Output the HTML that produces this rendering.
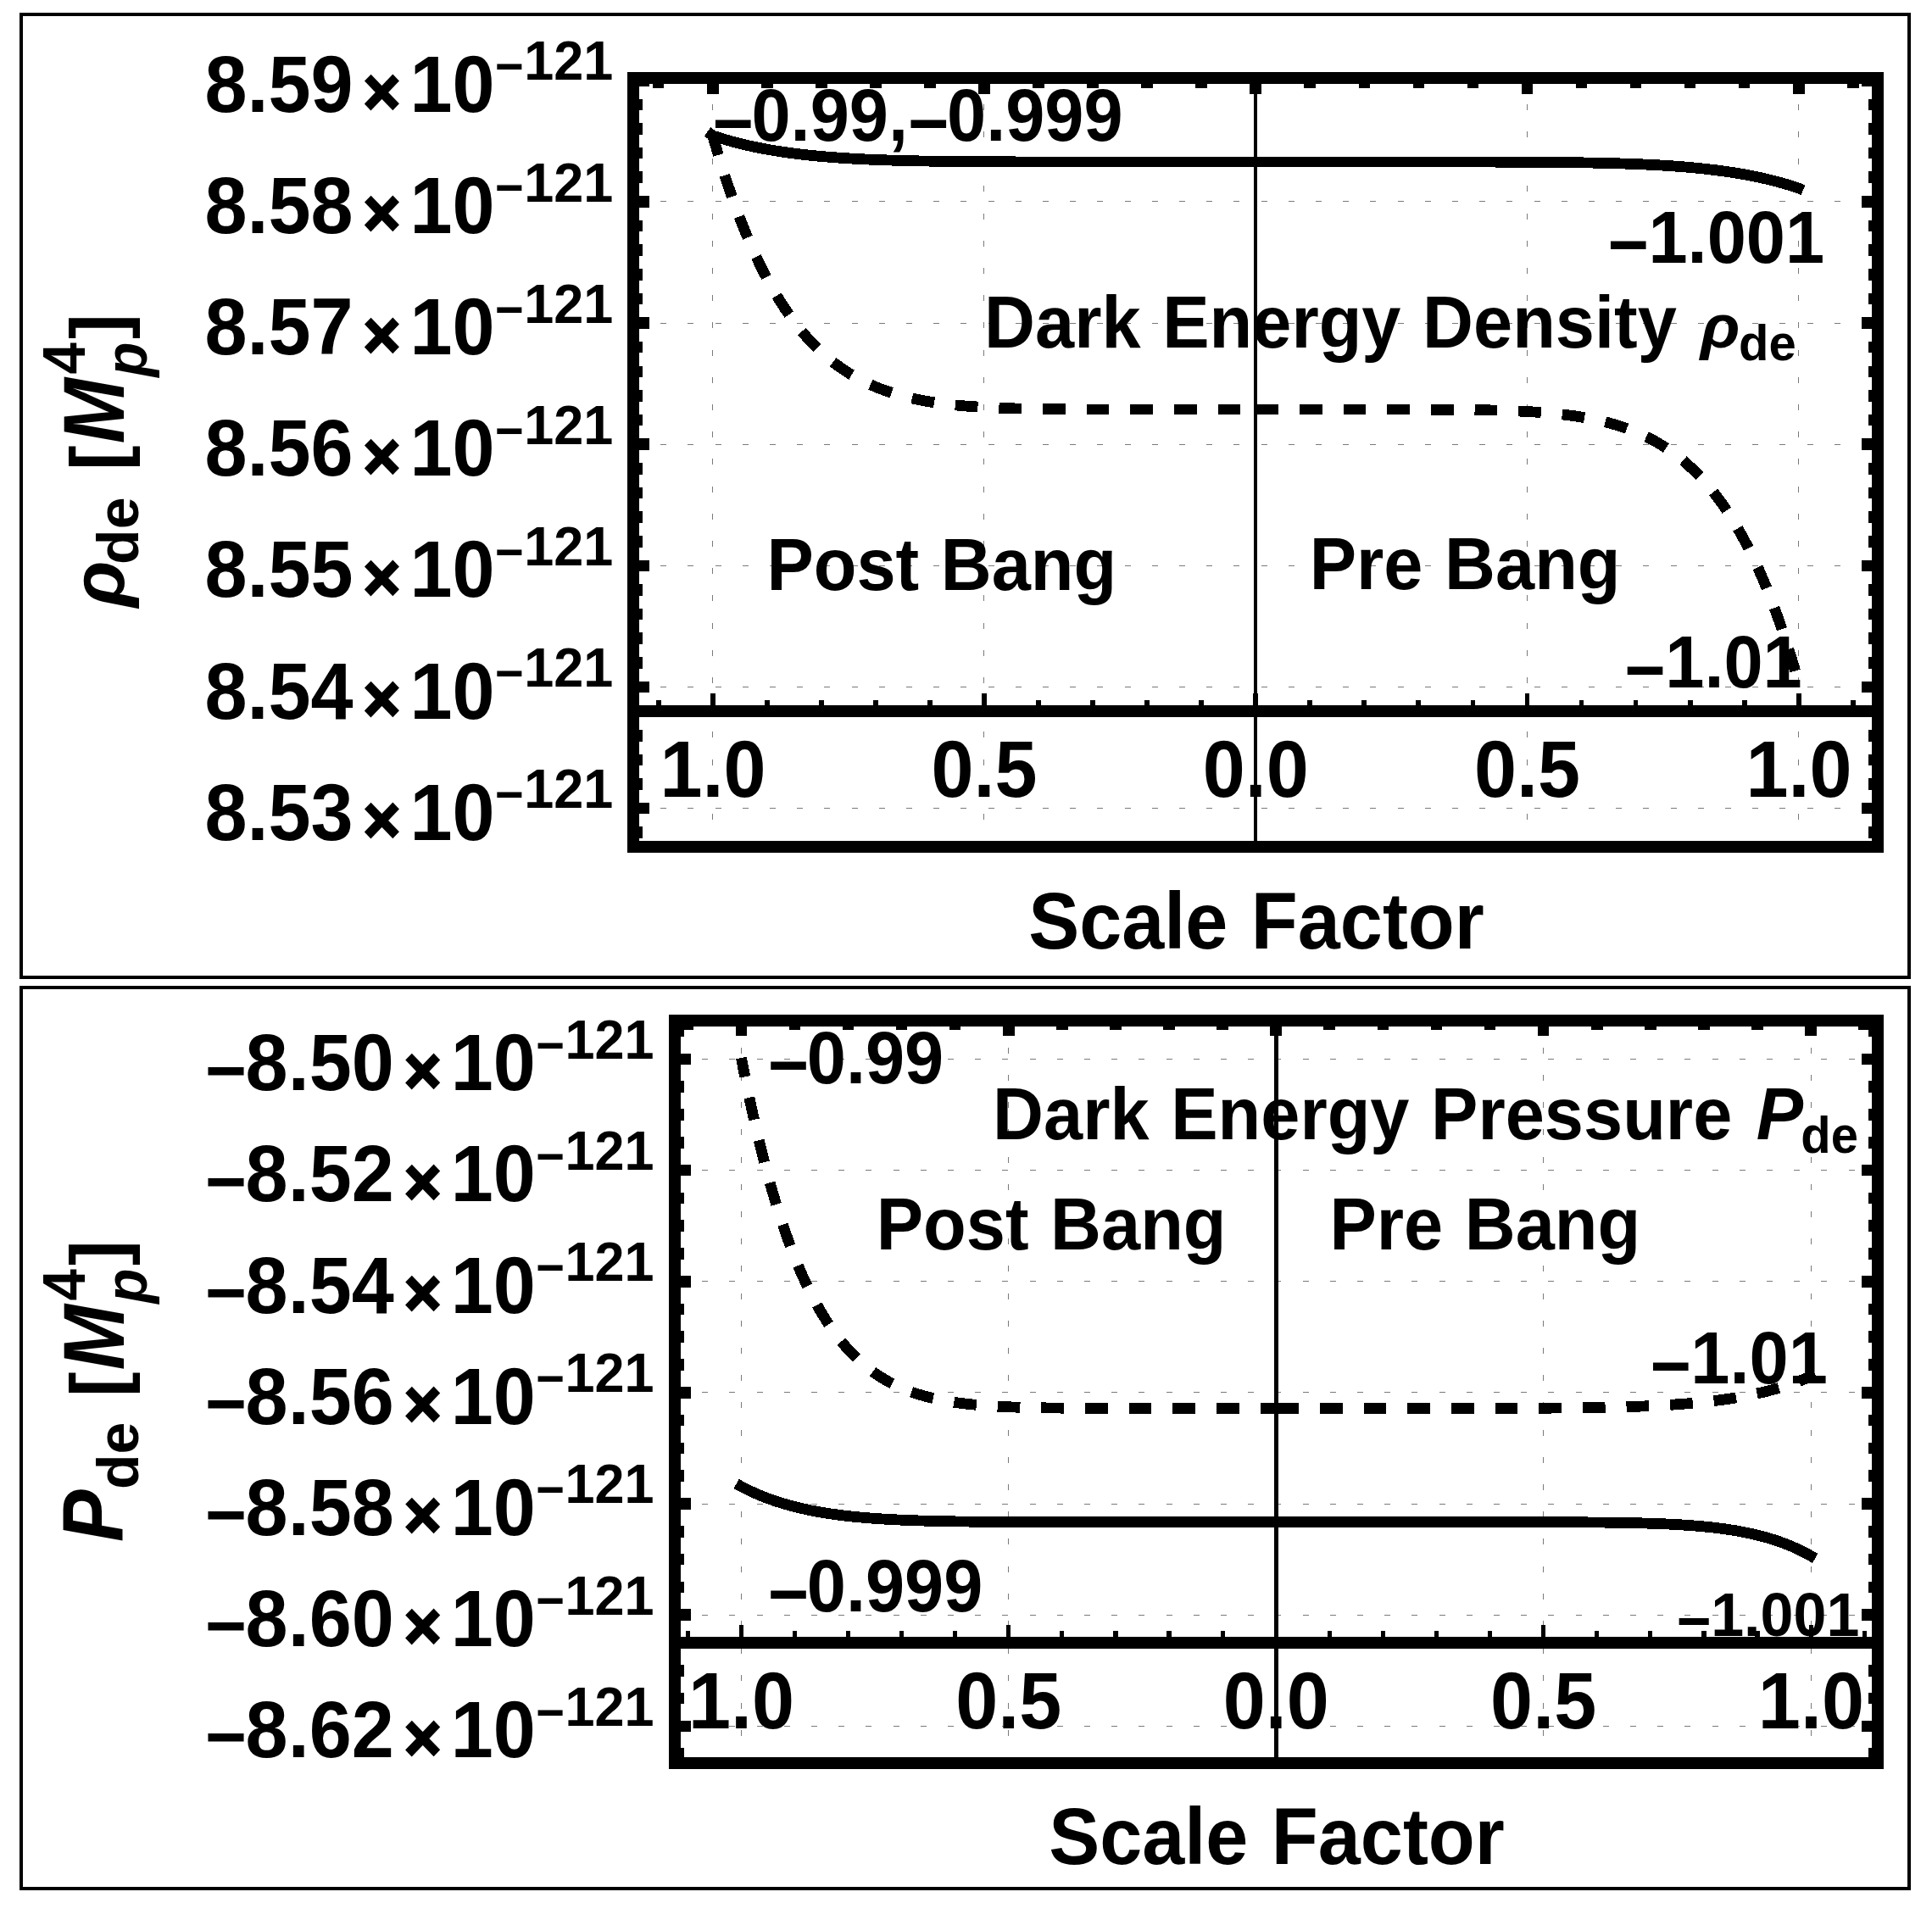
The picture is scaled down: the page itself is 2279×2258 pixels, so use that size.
<!DOCTYPE html>
<html lang="en"><head><meta charset="utf-8"><title>Dark energy density and pressure</title>
<style>html,body{margin:0;padding:0;background:#fff}svg{display:block}text{word-spacing:2.5px;font-family:"Liberation Sans",sans-serif;font-weight:bold;fill:#000}.i{font-style:italic}</style>
</head><body>
<svg width="2279" height="2258" viewBox="0 0 2279 2258" shape-rendering="crispEdges">
<rect width="2279" height="2258" fill="#fff"/>
<rect x="25" y="17" width="2227.2" height="1136" fill="none" stroke="#000" stroke-width="4"/>
<rect x="25" y="1165" width="2227.2" height="1063.3" fill="none" stroke="#000" stroke-width="4"/>
<path d="M840.5 999.2 V92 M1160.5 999.2 V92 M1801.5 999.2 V92 M2121.5 999.2 V92 M747 953.5 H2215 M747 810.5 H2215 M747 667.5 H2215 M747 524.5 H2215 M747 381.5 H2215 M747 237.5 H2215 M747 94.5 H2215" fill="none" stroke="#7a7a7a" stroke-width="1" stroke-dasharray="7 25.2"/>
<path d="M1481 92 V999.2" stroke="#000" stroke-width="4" fill="none"/>
<path d="M776.65 839 V826.2 M840.7 839 V818.3 M904.75 839 V826.2 M968.8 839 V826.2 M1032.85 839 V826.2 M1096.9 839 V826.2 M1160.95 839 V818.3 M1225 839 V826.2 M1289.05 839 V826.2 M1353.1 839 V826.2 M1417.15 839 V826.2 M1481.2 839 V818.3 M1545.25 839 V826.2 M1609.3 839 V826.2 M1673.35 839 V826.2 M1737.4 839 V826.2 M1801.45 839 V818.3 M1865.5 839 V826.2 M1929.55 839 V826.2 M1993.6 839 V826.2 M2057.65 839 V826.2 M2121.7 839 V818.3 M2185.75 839 V826.2" stroke="#000" stroke-width="5.8" fill="none"/>
<path d="M747 839 H2215" stroke="#000" stroke-width="14" fill="none"/>
<path d="M776.65 92 v12 M840.7 92 v19 M904.75 92 v12 M968.8 92 v12 M1032.85 92 v12 M1096.9 92 v12 M1160.95 92 v19 M1225 92 v12 M1289.05 92 v12 M1353.1 92 v12 M1417.15 92 v12 M1481.2 92 v19 M1545.25 92 v12 M1609.3 92 v12 M1673.35 92 v12 M1737.4 92 v12 M1801.45 92 v19 M1865.5 92 v12 M1929.55 92 v12 M1993.6 92 v12 M2057.65 92 v12 M2121.7 92 v19 M2185.75 92 v12 M747 982.28 h11 M2215 982.28 h-11 M747 953.65 h19 M2215 953.65 h-19 M747 925.02 h11 M2215 925.02 h-11 M747 896.39 h11 M2215 896.39 h-11 M747 867.76 h11 M2215 867.76 h-11 M747 839.13 h11 M2215 839.13 h-11 M747 810.5 h19 M2215 810.5 h-19 M747 781.87 h11 M2215 781.87 h-11 M747 753.24 h11 M2215 753.24 h-11 M747 724.61 h11 M2215 724.61 h-11 M747 695.98 h11 M2215 695.98 h-11 M747 667.35 h19 M2215 667.35 h-19 M747 638.72 h11 M2215 638.72 h-11 M747 610.09 h11 M2215 610.09 h-11 M747 581.46 h11 M2215 581.46 h-11 M747 552.83 h11 M2215 552.83 h-11 M747 524.2 h19 M2215 524.2 h-19 M747 495.57 h11 M2215 495.57 h-11 M747 466.94 h11 M2215 466.94 h-11 M747 438.31 h11 M2215 438.31 h-11 M747 409.68 h11 M2215 409.68 h-11 M747 381.05 h19 M2215 381.05 h-19 M747 352.42 h11 M2215 352.42 h-11 M747 323.79 h11 M2215 323.79 h-11 M747 295.16 h11 M2215 295.16 h-11 M747 266.53 h11 M2215 266.53 h-11 M747 237.9 h19 M2215 237.9 h-19 M747 209.27 h11 M2215 209.27 h-11 M747 180.64 h11 M2215 180.64 h-11 M747 152.01 h11 M2215 152.01 h-11 M747 123.38 h11 M2215 123.38 h-11 M747 94.75 h19 M2215 94.75 h-19" stroke="#000" stroke-width="13.6" fill="none"/>
<rect x="747" y="92" width="1468" height="907.2" fill="none" stroke="#000" stroke-width="14"/>
<path d="M834.5 155.5 L840.7 160 L846.04 161.76 L851.38 163.44 L856.71 165.03 L862.05 166.55 L867.39 167.99 L872.73 169.35 L878.06 170.65 L883.4 171.87 L888.74 173.04 L894.08 174.14 L899.41 175.18 L904.75 176.17 L910.09 177.11 L915.43 177.99 L920.76 178.83 L926.1 179.62 L931.44 180.36 L936.78 181.06 L942.11 181.72 L947.45 182.35 L952.79 182.94 L958.12 183.49 L963.46 184.01 L968.8 184.5 L974.14 184.96 L979.48 185.39 L984.81 185.79 L990.15 186.17 L995.49 186.53 L1000.83 186.86 L1006.16 187.17 L1011.5 187.46 L1016.84 187.74 L1022.18 187.99 L1027.51 188.23 L1032.85 188.45 L1038.19 188.65 L1043.53 188.84 L1048.86 189.02 L1054.2 189.19 L1059.54 189.34 L1064.88 189.48 L1070.21 189.61 L1075.55 189.73 L1080.89 189.85 L1086.22 189.95 L1091.56 190.04 L1096.9 190.13 L1102.24 190.21 L1107.58 190.29 L1112.91 190.36 L1118.25 190.42 L1123.59 190.48 L1128.92 190.53 L1134.26 190.58 L1139.6 190.62 L1144.94 190.66 L1150.28 190.7 L1155.61 190.73 L1160.95 190.76 L1166.29 190.78 L1171.62 190.81 L1176.96 190.83 L1182.3 190.85 L1187.64 190.87 L1192.98 190.88 L1198.31 190.9 L1203.65 190.91 L1208.99 190.92 L1214.33 190.93 L1219.66 190.94 L1225 190.95 L1230.34 190.96 L1235.68 190.96 L1241.01 190.97 L1246.35 190.97 L1251.69 190.98 L1257.03 190.98 L1262.36 190.98 L1267.7 190.99 L1273.04 190.99 L1278.38 190.99 L1283.71 190.99 L1289.05 190.99 L1294.39 190.99 L1299.73 191 L1305.06 191 L1310.4 191 L1315.74 191 L1321.08 191 L1326.41 191 L1331.75 191 L1337.09 191 L1342.42 191 L1347.76 191 L1353.1 191 L1358.44 191 L1363.78 191 L1369.11 191 L1374.45 191 L1379.79 191 L1385.12 191 L1390.46 191 L1395.8 191 L1401.14 191 L1406.47 191 L1411.81 191 L1417.15 191 L1422.49 191 L1427.83 191 L1433.16 191 L1438.5 191 L1443.84 191 L1449.17 191 L1454.51 191 L1459.85 191 L1465.19 191 L1470.53 191 L1475.86 191 L1481.2 191 L1486.54 191 L1491.88 191 L1497.21 191 L1502.55 191 L1507.89 191 L1513.23 191 L1518.56 191 L1523.9 191 L1529.24 191 L1534.58 191 L1539.91 191 L1545.25 191 L1550.59 191 L1555.93 191 L1561.26 191 L1566.6 191 L1571.94 191 L1577.28 191 L1582.61 191 L1587.95 191 L1593.29 191 L1598.62 191 L1603.96 191 L1609.3 191 L1614.64 191 L1619.97 191 L1625.31 191 L1630.65 191 L1635.99 191 L1641.33 191 L1646.66 191 L1652 191 L1657.34 191 L1662.68 191 L1668.01 191.01 L1673.35 191.01 L1678.69 191.01 L1684.03 191.01 L1689.36 191.01 L1694.7 191.01 L1700.04 191.02 L1705.38 191.02 L1710.71 191.02 L1716.05 191.03 L1721.39 191.03 L1726.72 191.04 L1732.06 191.04 L1737.4 191.05 L1742.74 191.06 L1748.08 191.07 L1753.41 191.08 L1758.75 191.09 L1764.09 191.1 L1769.42 191.12 L1774.76 191.13 L1780.1 191.15 L1785.44 191.17 L1790.78 191.19 L1796.11 191.22 L1801.45 191.24 L1806.79 191.27 L1812.12 191.3 L1817.46 191.34 L1822.8 191.38 L1828.14 191.42 L1833.48 191.47 L1838.81 191.52 L1844.15 191.58 L1849.49 191.64 L1854.83 191.71 L1860.16 191.79 L1865.5 191.87 L1870.84 191.96 L1876.18 192.05 L1881.51 192.15 L1886.85 192.27 L1892.19 192.39 L1897.53 192.52 L1902.86 192.66 L1908.2 192.81 L1913.54 192.98 L1918.88 193.16 L1924.21 193.35 L1929.55 193.55 L1934.89 193.77 L1940.22 194.01 L1945.56 194.26 L1950.9 194.54 L1956.24 194.83 L1961.58 195.14 L1966.91 195.47 L1972.25 195.83 L1977.59 196.21 L1982.93 196.61 L1988.26 197.04 L1993.6 197.5 L1998.94 197.99 L2004.28 198.51 L2009.61 199.06 L2014.95 199.65 L2020.29 200.28 L2025.62 200.94 L2030.96 201.64 L2036.3 202.38 L2041.64 203.17 L2046.97 204.01 L2052.31 204.89 L2057.65 205.83 L2062.99 206.82 L2068.32 207.86 L2073.66 208.96 L2079 210.13 L2084.34 211.35 L2089.68 212.65 L2095.01 214.01 L2100.35 215.45 L2105.69 216.97 L2111.03 218.56 L2116.36 220.24 L2121.7 222 L2127 224.4" fill="none" stroke="#000" stroke-width="12.8"/>
<path d="M834.6 155.9 L840.7 160 L844.97 174.78 L849.24 188.97 L853.51 202.6 L857.78 215.68 L862.05 228.24 L866.32 240.28 L870.59 251.84 L874.86 262.92 L879.13 273.54 L883.4 283.72 L887.67 293.47 L891.94 302.82 L896.21 311.76 L900.48 320.32 L904.75 328.51 L909.02 336.34 L913.29 343.84 L917.56 351 L921.83 357.84 L926.1 364.38 L930.37 370.62 L934.64 376.58 L938.91 382.26 L943.18 387.69 L947.45 392.86 L951.72 397.79 L955.99 402.48 L960.26 406.95 L964.53 411.21 L968.8 415.26 L973.07 419.12 L977.34 422.78 L981.61 426.26 L985.88 429.57 L990.15 432.71 L994.42 435.7 L998.69 438.53 L1002.96 441.21 L1007.23 443.75 L1011.5 446.16 L1015.77 448.44 L1020.04 450.6 L1024.31 452.64 L1028.58 454.57 L1032.85 456.4 L1037.12 458.12 L1041.39 459.75 L1045.66 461.28 L1049.93 462.73 L1054.2 464.1 L1058.47 465.38 L1062.74 466.59 L1067.01 467.73 L1071.28 468.79 L1075.55 469.8 L1079.82 470.74 L1084.09 471.63 L1088.36 472.45 L1092.63 473.23 L1096.9 473.96 L1101.17 474.64 L1105.44 475.27 L1109.71 475.87 L1113.98 476.42 L1118.25 476.94 L1122.52 477.42 L1126.79 477.87 L1131.06 478.29 L1135.33 478.68 L1139.6 479.04 L1143.87 479.37 L1148.14 479.68 L1152.41 479.97 L1156.68 480.23 L1160.95 480.48 L1165.22 480.7 L1169.49 480.91 L1173.76 481.1 L1178.03 481.28 L1182.3 481.44 L1186.57 481.59 L1190.84 481.73 L1195.11 481.85 L1199.38 481.97 L1203.65 482.07 L1207.92 482.17 L1212.19 482.26 L1216.46 482.33 L1220.73 482.41 L1225 482.47 L1229.27 482.53 L1233.54 482.58 L1237.81 482.63 L1242.08 482.67 L1246.35 482.71 L1250.62 482.75 L1254.89 482.78 L1259.16 482.81 L1263.43 482.83 L1267.7 482.85 L1271.97 482.87 L1276.24 482.89 L1280.51 482.9 L1284.78 482.92 L1289.05 482.93 L1293.32 482.94 L1297.59 482.95 L1301.86 482.96 L1306.13 482.96 L1310.4 482.97 L1314.67 482.97 L1318.94 482.98 L1323.21 482.98 L1327.48 482.99 L1331.75 482.99 L1336.02 482.99 L1340.29 482.99 L1344.56 482.99 L1348.83 482.99 L1353.1 483 L1357.37 483 L1361.64 483 L1365.91 483 L1370.18 483 L1374.45 483 L1378.72 483 L1382.99 483 L1387.26 483 L1391.53 483 L1395.8 483 L1400.07 483 L1404.34 483 L1408.61 483 L1412.88 483 L1417.15 483 L1421.42 483 L1425.69 483 L1429.96 483 L1434.23 483 L1438.5 483 L1442.77 483 L1447.04 483 L1451.31 483 L1455.58 483 L1459.85 483 L1464.12 483 L1468.39 483 L1472.66 483 L1476.93 483 L1481.2 483" fill="none" stroke="#000" stroke-width="12.8" stroke-dasharray="26.7 24.97" stroke-dashoffset="47.14"/>
<path d="M1481.2 483 L1485.47 483 L1489.74 483 L1494.01 483 L1498.28 483 L1502.55 483 L1506.82 483 L1511.09 483 L1515.36 483 L1519.63 483 L1523.9 483 L1528.17 483 L1532.44 483 L1536.71 483 L1540.98 483 L1545.25 483 L1549.52 483 L1553.79 483 L1558.06 483 L1562.33 483 L1566.6 483 L1570.87 483 L1575.14 483 L1579.41 483 L1583.68 483 L1587.95 483 L1592.22 483 L1596.49 483 L1600.76 483 L1605.03 483 L1609.3 483 L1613.57 483.01 L1617.84 483.01 L1622.11 483.01 L1626.38 483.01 L1630.65 483.01 L1634.92 483.01 L1639.19 483.02 L1643.46 483.02 L1647.73 483.03 L1652 483.03 L1656.27 483.04 L1660.54 483.04 L1664.81 483.05 L1669.08 483.06 L1673.35 483.07 L1677.62 483.08 L1681.89 483.1 L1686.16 483.11 L1690.43 483.13 L1694.7 483.15 L1698.97 483.17 L1703.24 483.19 L1707.51 483.22 L1711.78 483.25 L1716.05 483.29 L1720.32 483.33 L1724.59 483.37 L1728.86 483.42 L1733.13 483.47 L1737.4 483.53 L1741.67 483.59 L1745.94 483.66 L1750.21 483.74 L1754.48 483.83 L1758.75 483.93 L1763.02 484.03 L1767.29 484.14 L1771.56 484.27 L1775.83 484.41 L1780.1 484.55 L1784.37 484.72 L1788.64 484.89 L1792.91 485.09 L1797.18 485.29 L1801.45 485.52 L1805.72 485.76 L1809.99 486.03 L1814.26 486.32 L1818.53 486.62 L1822.8 486.96 L1827.07 487.32 L1831.34 487.71 L1835.61 488.12 L1839.88 488.57 L1844.15 489.05 L1848.42 489.57 L1852.69 490.12 L1856.96 490.71 L1861.23 491.35 L1865.5 492.03 L1869.77 492.75 L1874.04 493.53 L1878.31 494.36 L1882.58 495.24 L1886.85 496.18 L1891.12 497.18 L1895.39 498.25 L1899.66 499.39 L1903.93 500.59 L1908.2 501.88 L1912.47 503.24 L1916.74 504.68 L1921.01 506.21 L1925.28 507.84 L1929.55 509.56 L1933.82 511.38 L1938.09 513.31 L1942.36 515.35 L1946.63 517.5 L1950.9 519.78 L1955.17 522.19 L1959.44 524.73 L1963.71 527.41 L1967.98 530.23 L1972.25 533.21 L1976.52 536.35 L1980.79 539.65 L1985.06 543.13 L1989.33 546.79 L1993.6 550.63 L1997.87 554.68 L2002.14 558.93 L2006.41 563.39 L2010.68 568.08 L2014.95 573 L2019.22 578.17 L2023.49 583.58 L2027.76 589.26 L2032.03 595.21 L2036.3 601.44 L2040.57 607.97 L2044.84 614.8 L2049.11 621.95 L2053.38 629.43 L2057.65 637.25 L2061.92 645.43 L2066.19 653.98 L2070.46 662.91 L2074.73 672.23 L2079 681.97 L2083.27 692.13 L2087.54 702.74 L2091.81 713.8 L2096.08 725.34 L2100.35 737.37 L2104.62 749.91 L2108.89 762.97 L2113.16 776.58 L2117.43 790.75 L2121.7 805.5" fill="none" stroke="#000" stroke-width="12.8" stroke-dasharray="26.7 24.97"/>
<text transform="translate(840.5,166.3) scale(1,1.041)" font-size="83" text-anchor="start"><tspan dy="8.26">−</tspan><tspan dy="-8.26" dx="-2.5">0.99,</tspan><tspan dy="8.26">−</tspan><tspan dy="-8.26" dx="-2.5">0.999</tspan></text>
<text transform="translate(1896.5,309.8) scale(1,1.041)" font-size="83" text-anchor="start"><tspan dy="8.26">−</tspan><tspan dy="-8.26" dx="-0.5">1.001</tspan></text>
<text transform="translate(1161.1,409.6) scale(1,1.041)" font-size="83" text-anchor="start">Dark Energy Density</text>
<text transform="translate(2005.7,409.6) scale(1,0.95)" font-size="77" text-anchor="start" class="i">ρ</text>
<text transform="translate(2051,425.4) scale(1,1.02)" font-size="58" text-anchor="start">de</text>
<text transform="translate(904.4,695.5) scale(1,1.041)" font-size="83" text-anchor="start">Post Bang</text>
<text transform="translate(1544.7,695.2) scale(1,1.041)" font-size="83" text-anchor="start">Pre Bang</text>
<text transform="translate(1916.3,811) scale(1,1.041)" font-size="83" text-anchor="start"><tspan dy="8.26">−</tspan><tspan dy="-8.26" dx="-0.5">1.01</tspan></text>
<text transform="translate(841,939.8) scale(1,1.041)" font-size="90" text-anchor="middle">1.0</text>
<text transform="translate(1160.95,939.8) scale(1,1.041)" font-size="90" text-anchor="middle">0.5</text>
<text transform="translate(1481.2,939.8) scale(1,1.041)" font-size="90" text-anchor="middle">0.0</text>
<text transform="translate(1801.45,939.8) scale(1,1.041)" font-size="90" text-anchor="middle">0.5</text>
<text transform="translate(2122,939.8) scale(1,1.041)" font-size="90" text-anchor="middle">1.0</text>
<text transform="translate(1482,1119) scale(1,1.041)" font-size="90" text-anchor="middle">Scale Factor</text>
<text transform="translate(241.4,990.65) scale(1,1.041)" font-size="90" text-anchor="start">8.53</text>
<text transform="translate(428.6,994.15) scale(1,1.041)" font-size="75" text-anchor="start" stroke="#000" stroke-width="2.6" stroke-linejoin="miter">×</text>
<text transform="translate(483.5,990.65) scale(1,1.041)" font-size="90" text-anchor="start">10</text>
<text transform="translate(583.8,958.15) scale(1,1.041)" font-size="58" text-anchor="start">−</text>
<text transform="translate(618.3,953.25) scale(1,1.041)" font-size="63" text-anchor="start">121</text>
<text transform="translate(241.4,847.5) scale(1,1.041)" font-size="90" text-anchor="start">8.54</text>
<text transform="translate(428.6,851) scale(1,1.041)" font-size="75" text-anchor="start" stroke="#000" stroke-width="2.6" stroke-linejoin="miter">×</text>
<text transform="translate(483.5,847.5) scale(1,1.041)" font-size="90" text-anchor="start">10</text>
<text transform="translate(583.8,815) scale(1,1.041)" font-size="58" text-anchor="start">−</text>
<text transform="translate(618.3,810.1) scale(1,1.041)" font-size="63" text-anchor="start">121</text>
<text transform="translate(241.4,704.35) scale(1,1.041)" font-size="90" text-anchor="start">8.55</text>
<text transform="translate(428.6,707.85) scale(1,1.041)" font-size="75" text-anchor="start" stroke="#000" stroke-width="2.6" stroke-linejoin="miter">×</text>
<text transform="translate(483.5,704.35) scale(1,1.041)" font-size="90" text-anchor="start">10</text>
<text transform="translate(583.8,671.85) scale(1,1.041)" font-size="58" text-anchor="start">−</text>
<text transform="translate(618.3,666.95) scale(1,1.041)" font-size="63" text-anchor="start">121</text>
<text transform="translate(241.4,561.2) scale(1,1.041)" font-size="90" text-anchor="start">8.56</text>
<text transform="translate(428.6,564.7) scale(1,1.041)" font-size="75" text-anchor="start" stroke="#000" stroke-width="2.6" stroke-linejoin="miter">×</text>
<text transform="translate(483.5,561.2) scale(1,1.041)" font-size="90" text-anchor="start">10</text>
<text transform="translate(583.8,528.7) scale(1,1.041)" font-size="58" text-anchor="start">−</text>
<text transform="translate(618.3,523.8) scale(1,1.041)" font-size="63" text-anchor="start">121</text>
<text transform="translate(241.4,418.05) scale(1,1.041)" font-size="90" text-anchor="start">8.57</text>
<text transform="translate(428.6,421.55) scale(1,1.041)" font-size="75" text-anchor="start" stroke="#000" stroke-width="2.6" stroke-linejoin="miter">×</text>
<text transform="translate(483.5,418.05) scale(1,1.041)" font-size="90" text-anchor="start">10</text>
<text transform="translate(583.8,385.55) scale(1,1.041)" font-size="58" text-anchor="start">−</text>
<text transform="translate(618.3,380.65) scale(1,1.041)" font-size="63" text-anchor="start">121</text>
<text transform="translate(241.4,274.9) scale(1,1.041)" font-size="90" text-anchor="start">8.58</text>
<text transform="translate(428.6,278.4) scale(1,1.041)" font-size="75" text-anchor="start" stroke="#000" stroke-width="2.6" stroke-linejoin="miter">×</text>
<text transform="translate(483.5,274.9) scale(1,1.041)" font-size="90" text-anchor="start">10</text>
<text transform="translate(583.8,242.4) scale(1,1.041)" font-size="58" text-anchor="start">−</text>
<text transform="translate(618.3,237.5) scale(1,1.041)" font-size="63" text-anchor="start">121</text>
<text transform="translate(241.4,131.75) scale(1,1.041)" font-size="90" text-anchor="start">8.59</text>
<text transform="translate(428.6,135.25) scale(1,1.041)" font-size="75" text-anchor="start" stroke="#000" stroke-width="2.6" stroke-linejoin="miter">×</text>
<text transform="translate(483.5,131.75) scale(1,1.041)" font-size="90" text-anchor="start">10</text>
<text transform="translate(583.8,99.25) scale(1,1.041)" font-size="58" text-anchor="start">−</text>
<text transform="translate(618.3,94.35) scale(1,1.041)" font-size="63" text-anchor="start">121</text>
<text transform="translate(146,716.3) rotate(-90) scale(1,0.975)" font-size="90" class="i">ρ</text>
<text transform="translate(163,665.9) rotate(-90) scale(1,1.0)" font-size="68">de</text>
<text transform="translate(145.6,555) rotate(-90) scale(1,1.0)" font-size="89">[</text>
<text transform="translate(146,523.3) rotate(-90) scale(1,1.098)" font-size="92.5" class="i">M</text>
<text transform="translate(99.9,441.6) rotate(-90) scale(1,1.041)" font-size="67">4</text>
<text transform="translate(172.5,444.5) rotate(-90) scale(1,1.041)" font-size="67" class="i">p</text>
<text transform="translate(145.6,400) rotate(-90) scale(1,1.0)" font-size="89">]</text>
<path d="M874.5 2080 V1204 M1189.5 2080 V1204 M1820.5 2080 V1204 M2136.5 2080 V1204 M796 1249.5 H2215 M796 1380.5 H2215 M796 1511.5 H2215 M796 1642.5 H2215 M796 1774.5 H2215 M796 1905.5 H2215 M796 2036.5 H2215" fill="none" stroke="#7a7a7a" stroke-width="1" stroke-dasharray="7 25.2"/>
<path d="M1505.5 1204 V2080" stroke="#000" stroke-width="5" fill="none"/>
<path d="M811.21 1938 V1924 M874.3 1938 V1917.3 M937.39 1938 V1924 M1000.48 1938 V1924 M1063.57 1938 V1924 M1126.66 1938 V1924 M1189.75 1938 V1917.3 M1252.84 1938 V1924 M1315.93 1938 V1924 M1379.02 1938 V1924 M1442.11 1938 V1924 M1505.2 1938 V1917.3 M1568.29 1938 V1924 M1631.38 1938 V1924 M1694.47 1938 V1924 M1757.56 1938 V1924 M1820.65 1938 V1917.3 M1883.74 1938 V1924 M1946.83 1938 V1924 M2009.92 1938 V1924 M2073.01 1938 V1924 M2136.1 1938 V1917.3 M2199.19 1938 V1924" stroke="#000" stroke-width="5.2" fill="none"/>
<path d="M796 1938 H2215" stroke="#000" stroke-width="14" fill="none"/>
<path d="M811.21 1204 v10.8 M874.3 1204 v17.8 M937.39 1204 v10.8 M1000.48 1204 v10.8 M1063.57 1204 v10.8 M1126.66 1204 v10.8 M1189.75 1204 v17.8 M1252.84 1204 v10.8 M1315.93 1204 v10.8 M1379.02 1204 v10.8 M1442.11 1204 v10.8 M1505.2 1204 v17.8 M1568.29 1204 v10.8 M1631.38 1204 v10.8 M1694.47 1204 v10.8 M1757.56 1204 v10.8 M1820.65 1204 v17.8 M1883.74 1204 v10.8 M1946.83 1204 v10.8 M2009.92 1204 v10.8 M2073.01 1204 v10.8 M2136.1 1204 v17.8 M2199.19 1204 v10.8 M796 1216.61 h11 M2215 1216.61 h-11 M796 1249.4 h19 M2215 1249.4 h-19 M796 1282.19 h11 M2215 1282.19 h-11 M796 1314.97 h11 M2215 1314.97 h-11 M796 1347.76 h11 M2215 1347.76 h-11 M796 1380.55 h19 M2215 1380.55 h-19 M796 1413.34 h11 M2215 1413.34 h-11 M796 1446.12 h11 M2215 1446.12 h-11 M796 1478.91 h11 M2215 1478.91 h-11 M796 1511.7 h19 M2215 1511.7 h-19 M796 1544.49 h11 M2215 1544.49 h-11 M796 1577.28 h11 M2215 1577.28 h-11 M796 1610.06 h11 M2215 1610.06 h-11 M796 1642.85 h19 M2215 1642.85 h-19 M796 1675.64 h11 M2215 1675.64 h-11 M796 1708.43 h11 M2215 1708.43 h-11 M796 1741.21 h11 M2215 1741.21 h-11 M796 1774 h19 M2215 1774 h-19 M796 1806.79 h11 M2215 1806.79 h-11 M796 1839.57 h11 M2215 1839.57 h-11 M796 1872.36 h11 M2215 1872.36 h-11 M796 1905.15 h19 M2215 1905.15 h-19 M796 1937.94 h11 M2215 1937.94 h-11 M796 1970.72 h11 M2215 1970.72 h-11 M796 2003.51 h11 M2215 2003.51 h-11 M796 2036.3 h19 M2215 2036.3 h-19 M796 2069.09 h11 M2215 2069.09 h-11" stroke="#000" stroke-width="13.6" fill="none"/>
<rect x="796" y="1204" width="1419" height="876" fill="none" stroke="#000" stroke-width="14"/>
<path d="M868.62 1750.48 L873.92 1753.4 L879.23 1756.15 L884.53 1758.75 L889.83 1761.19 L895.13 1763.49 L900.44 1765.66 L905.74 1767.7 L911.04 1769.61 L916.34 1771.41 L921.64 1773.1 L926.95 1774.68 L932.25 1776.17 L937.55 1777.56 L942.85 1778.87 L948.15 1780.09 L953.46 1781.23 L958.76 1782.3 L964.06 1783.3 L969.36 1784.23 L974.67 1785.1 L979.97 1785.91 L985.27 1786.66 L990.57 1787.37 L995.87 1788.02 L1001.18 1788.63 L1006.48 1789.2 L1011.78 1789.72 L1017.08 1790.21 L1022.39 1790.66 L1027.69 1791.08 L1032.99 1791.46 L1038.29 1791.82 L1043.59 1792.15 L1048.9 1792.46 L1054.2 1792.74 L1059.5 1792.99 L1064.8 1793.23 L1070.11 1793.45 L1075.41 1793.65 L1080.71 1793.84 L1086.01 1794 L1091.31 1794.16 L1096.62 1794.3 L1101.92 1794.43 L1107.22 1794.55 L1112.52 1794.65 L1117.82 1794.75 L1123.13 1794.84 L1128.43 1794.92 L1133.73 1794.99 L1139.03 1795.06 L1144.34 1795.12 L1149.64 1795.17 L1154.94 1795.22 L1160.24 1795.26 L1165.54 1795.3 L1170.85 1795.34 L1176.15 1795.37 L1181.45 1795.4 L1186.75 1795.42 L1192.06 1795.45 L1197.36 1795.47 L1202.66 1795.48 L1207.96 1795.5 L1213.26 1795.51 L1218.57 1795.52 L1223.87 1795.53 L1229.17 1795.54 L1234.47 1795.55 L1239.78 1795.56 L1245.08 1795.56 L1250.38 1795.57 L1255.68 1795.57 L1260.98 1795.58 L1266.29 1795.58 L1271.59 1795.59 L1276.89 1795.59 L1282.19 1795.59 L1287.49 1795.59 L1292.8 1795.59 L1298.1 1795.59 L1303.4 1795.6 L1308.7 1795.6 L1314.01 1795.6 L1319.31 1795.6 L1324.61 1795.6 L1329.91 1795.6 L1335.21 1795.6 L1340.52 1795.6 L1345.82 1795.6 L1351.12 1795.6 L1356.42 1795.6 L1361.73 1795.6 L1367.03 1795.6 L1372.33 1795.6 L1377.63 1795.6 L1382.93 1795.6 L1388.24 1795.6 L1393.54 1795.6 L1398.84 1795.6 L1404.14 1795.6 L1409.45 1795.6 L1414.75 1795.6 L1420.05 1795.6 L1425.35 1795.6 L1430.65 1795.6 L1435.96 1795.6 L1441.26 1795.6 L1446.56 1795.6 L1451.86 1795.6 L1457.16 1795.6 L1462.47 1795.6 L1467.77 1795.6 L1473.07 1795.6 L1478.37 1795.6 L1483.68 1795.6 L1488.98 1795.6 L1494.28 1795.6 L1499.58 1795.6 L1504.88 1795.6 L1510.19 1795.6 L1515.49 1795.6 L1520.79 1795.6 L1526.09 1795.6 L1531.4 1795.6 L1536.7 1795.6 L1542 1795.6 L1547.3 1795.6 L1552.6 1795.6 L1557.91 1795.6 L1563.21 1795.6 L1568.51 1795.6 L1573.81 1795.6 L1579.12 1795.6 L1584.42 1795.6 L1589.72 1795.6 L1595.02 1795.6 L1600.32 1795.6 L1605.63 1795.6 L1610.93 1795.6 L1616.23 1795.6 L1621.53 1795.6 L1626.83 1795.6 L1632.14 1795.6 L1637.44 1795.6 L1642.74 1795.6 L1648.04 1795.6 L1653.35 1795.6 L1658.65 1795.6 L1663.95 1795.6 L1669.25 1795.6 L1674.55 1795.6 L1679.86 1795.6 L1685.16 1795.6 L1690.46 1795.6 L1695.76 1795.6 L1701.07 1795.6 L1706.37 1795.6 L1711.67 1795.6 L1716.97 1795.6 L1722.27 1795.6 L1727.58 1795.6 L1732.88 1795.6 L1738.18 1795.61 L1743.48 1795.61 L1748.79 1795.61 L1754.09 1795.61 L1759.39 1795.61 L1764.69 1795.61 L1769.99 1795.62 L1775.3 1795.62 L1780.6 1795.62 L1785.9 1795.63 L1791.2 1795.63 L1796.5 1795.64 L1801.81 1795.64 L1807.11 1795.65 L1812.41 1795.66 L1817.71 1795.67 L1823.02 1795.68 L1828.32 1795.7 L1833.62 1795.71 L1838.92 1795.73 L1844.22 1795.75 L1849.53 1795.77 L1854.83 1795.8 L1860.13 1795.83 L1865.43 1795.86 L1870.74 1795.89 L1876.04 1795.93 L1881.34 1795.98 L1886.64 1796.03 L1891.94 1796.09 L1897.25 1796.15 L1902.55 1796.22 L1907.85 1796.3 L1913.15 1796.39 L1918.46 1796.49 L1923.76 1796.59 L1929.06 1796.71 L1934.36 1796.84 L1939.66 1796.99 L1944.97 1797.15 L1950.27 1797.33 L1955.57 1797.52 L1960.87 1797.73 L1966.17 1797.97 L1971.48 1798.22 L1976.78 1798.51 L1982.08 1798.81 L1987.38 1799.15 L1992.69 1799.52 L1997.99 1799.92 L2003.29 1800.35 L2008.59 1800.83 L2013.89 1801.35 L2019.2 1801.91 L2024.5 1802.52 L2029.8 1803.18 L2035.1 1803.9 L2040.41 1804.68 L2045.71 1805.52 L2051.01 1806.43 L2056.31 1807.42 L2061.61 1808.48 L2066.92 1809.63 L2072.22 1810.87 L2077.52 1812.2 L2082.82 1813.64 L2088.13 1815.18 L2093.43 1816.84 L2098.73 1818.63 L2104.03 1820.55 L2109.33 1822.61 L2114.64 1824.82 L2119.94 1827.19 L2125.24 1829.73 L2130.54 1832.45 L2135.85 1835.36 L2141.15 1838.47" fill="none" stroke="#000" stroke-width="12.8"/>
<path d="M874.44 1248 L877.11 1261.92 L881.35 1283.01 L885.6 1303.12 L889.84 1322.29 L894.09 1340.55 L898.33 1357.95 L902.57 1374.52 L906.82 1390.29 L911.06 1405.29 L915.3 1419.57 L919.55 1433.14 L923.79 1446.04 L928.04 1458.3 L932.28 1469.94 L936.52 1481 L940.77 1491.49 L945.01 1501.45 L949.26 1510.89 L953.5 1519.84 L957.74 1528.32 L961.99 1536.35 L966.23 1543.96 L970.47 1551.15 L974.72 1557.96 L978.96 1564.4 L983.21 1570.48 L987.45 1576.23 L991.69 1581.66 L995.94 1586.78 L1000.18 1591.61 L1004.43 1596.17 L1008.67 1600.46 L1012.91 1604.51 L1017.16 1608.31 L1021.4 1611.9 L1025.64 1615.27 L1029.89 1618.43 L1034.13 1621.41 L1038.38 1624.2 L1042.62 1626.82 L1046.86 1629.28 L1051.11 1631.58 L1055.35 1633.74 L1059.6 1635.76 L1063.84 1637.65 L1068.08 1639.42 L1072.33 1641.07 L1076.57 1642.61 L1080.81 1644.05 L1085.06 1645.39 L1089.3 1646.64 L1093.55 1647.8 L1097.79 1648.88 L1102.03 1649.89 L1106.28 1650.82 L1110.52 1651.69 L1114.77 1652.49 L1119.01 1653.24 L1123.25 1653.93 L1127.5 1654.57 L1131.74 1655.16 L1135.98 1655.7 L1140.23 1656.21 L1144.47 1656.67 L1148.72 1657.1 L1152.96 1657.49 L1157.2 1657.85 L1161.45 1658.18 L1165.69 1658.49 L1169.94 1658.77 L1174.18 1659.02 L1178.42 1659.26 L1182.67 1659.47 L1186.91 1659.66 L1191.15 1659.84 L1195.4 1660 L1199.64 1660.15 L1203.89 1660.28 L1208.13 1660.4 L1212.37 1660.51 L1216.62 1660.61 L1220.86 1660.7 L1225.11 1660.78 L1229.35 1660.85 L1233.59 1660.91 L1237.84 1660.97 L1242.08 1661.02 L1246.32 1661.07 L1250.57 1661.11 L1254.81 1661.15 L1259.06 1661.18 L1263.3 1661.21 L1267.54 1661.23 L1271.79 1661.25 L1276.03 1661.27 L1280.28 1661.29 L1284.52 1661.31 L1288.76 1661.32 L1293.01 1661.33 L1297.25 1661.34 L1301.5 1661.35 L1305.74 1661.36 L1309.98 1661.37 L1314.23 1661.37 L1318.47 1661.38 L1322.71 1661.38 L1326.96 1661.38 L1331.2 1661.39 L1335.45 1661.39 L1339.69 1661.39 L1343.93 1661.39 L1348.18 1661.39 L1352.42 1661.4 L1356.67 1661.4 L1360.91 1661.4 L1365.15 1661.4 L1369.4 1661.4 L1373.64 1661.4 L1377.88 1661.4 L1382.13 1661.4 L1386.37 1661.4 L1390.62 1661.4 L1394.86 1661.4 L1399.1 1661.4 L1403.35 1661.4 L1407.59 1661.4 L1411.84 1661.4 L1416.08 1661.4 L1420.32 1661.4 L1424.57 1661.4 L1428.81 1661.4 L1433.05 1661.4 L1437.3 1661.4 L1441.54 1661.4 L1445.79 1661.4 L1450.03 1661.4 L1454.27 1661.4 L1458.52 1661.4 L1462.76 1661.4 L1467.01 1661.4 L1471.25 1661.4 L1475.49 1661.4 L1479.74 1661.4 L1483.98 1661.4 L1488.22 1661.4 L1492.47 1661.4 L1496.71 1661.4 L1500.96 1661.4 L1505.2 1661.4" fill="none" stroke="#000" stroke-width="12.8" stroke-dasharray="26.7 24.97" stroke-dashoffset="3.92"/>
<path d="M1505.2 1661.4 L1509.44 1661.4 L1513.68 1661.4 L1517.92 1661.4 L1522.16 1661.4 L1526.4 1661.4 L1530.64 1661.4 L1534.88 1661.4 L1539.12 1661.4 L1543.36 1661.4 L1547.6 1661.4 L1551.84 1661.4 L1556.08 1661.4 L1560.32 1661.4 L1564.56 1661.4 L1568.79 1661.4 L1573.03 1661.4 L1577.27 1661.4 L1581.51 1661.4 L1585.75 1661.4 L1589.99 1661.4 L1594.23 1661.4 L1598.47 1661.4 L1602.71 1661.4 L1606.95 1661.4 L1611.19 1661.4 L1615.43 1661.4 L1619.67 1661.4 L1623.91 1661.4 L1628.15 1661.4 L1632.39 1661.4 L1636.63 1661.4 L1640.87 1661.4 L1645.11 1661.4 L1649.35 1661.4 L1653.59 1661.4 L1657.83 1661.4 L1662.07 1661.4 L1666.31 1661.4 L1670.55 1661.4 L1674.79 1661.4 L1679.03 1661.4 L1683.27 1661.4 L1687.5 1661.4 L1691.74 1661.39 L1695.98 1661.39 L1700.22 1661.39 L1704.46 1661.39 L1708.7 1661.39 L1712.94 1661.39 L1717.18 1661.39 L1721.42 1661.38 L1725.66 1661.38 L1729.9 1661.38 L1734.14 1661.38 L1738.38 1661.37 L1742.62 1661.37 L1746.86 1661.37 L1751.1 1661.36 L1755.34 1661.36 L1759.58 1661.35 L1763.82 1661.34 L1768.06 1661.34 L1772.3 1661.33 L1776.54 1661.32 L1780.78 1661.31 L1785.02 1661.3 L1789.26 1661.29 L1793.5 1661.28 L1797.74 1661.26 L1801.98 1661.25 L1806.22 1661.23 L1810.45 1661.21 L1814.69 1661.19 L1818.93 1661.17 L1823.17 1661.15 L1827.41 1661.12 L1831.65 1661.09 L1835.89 1661.06 L1840.13 1661.03 L1844.37 1660.99 L1848.61 1660.96 L1852.85 1660.91 L1857.09 1660.87 L1861.33 1660.82 L1865.57 1660.77 L1869.81 1660.71 L1874.05 1660.65 L1878.29 1660.59 L1882.53 1660.52 L1886.77 1660.44 L1891.01 1660.36 L1895.25 1660.27 L1899.49 1660.18 L1903.73 1660.08 L1907.97 1659.98 L1912.21 1659.86 L1916.45 1659.74 L1920.69 1659.61 L1924.93 1659.48 L1929.16 1659.33 L1933.4 1659.17 L1937.64 1659.01 L1941.88 1658.83 L1946.12 1658.64 L1950.36 1658.44 L1954.6 1658.23 L1958.84 1658.01 L1963.08 1657.77 L1967.32 1657.52 L1971.56 1657.25 L1975.8 1656.96 L1980.04 1656.66 L1984.28 1656.35 L1988.52 1656.01 L1992.76 1655.66 L1997 1655.28 L2001.24 1654.89 L2005.48 1654.47 L2009.72 1654.03 L2013.96 1653.56 L2018.2 1653.07 L2022.44 1652.56 L2026.68 1652.01 L2030.92 1651.44 L2035.16 1650.84 L2039.4 1650.21 L2043.64 1649.54 L2047.87 1648.85 L2052.11 1648.11 L2056.35 1647.34 L2060.59 1646.53 L2064.83 1645.68 L2069.07 1644.79 L2073.31 1643.86 L2077.55 1642.88 L2081.79 1641.86 L2086.03 1640.78 L2090.27 1639.66 L2094.51 1638.48 L2098.75 1637.25 L2102.99 1635.96 L2107.23 1634.62 L2111.47 1633.21 L2115.71 1631.74 L2119.95 1630.2 L2124.19 1628.6 L2128.43 1626.92 L2132.67 1625.17 L2136.91 1623.35 L2141.15 1621.44" fill="none" stroke="#000" stroke-width="12.8" stroke-dasharray="26.7 24.97"/>
<text transform="translate(905.8,1277.7) scale(1,1.041)" font-size="83" text-anchor="start"><tspan dy="8.26">−</tspan><tspan dy="-8.26" dx="-2.5">0.99</tspan></text>
<text transform="translate(1171.1,1343.5) scale(1,1.041)" font-size="83" text-anchor="start">Dark Energy Pressure <tspan class="i" dx="3">P</tspan><tspan font-size="58" dy="15.5" dx="-3">de</tspan></text>
<text transform="translate(1033.7,1474.3) scale(1,1.041)" font-size="83" text-anchor="start">Post Bang</text>
<text transform="translate(1568.4,1473.9) scale(1,1.041)" font-size="83" text-anchor="start">Pre Bang</text>
<text transform="translate(1946.4,1632.1) scale(1,1.041)" font-size="83" text-anchor="start"><tspan dy="8.26">−</tspan><tspan dy="-8.26" dx="-0.5">1.01</tspan></text>
<text transform="translate(905.8,1901) scale(1,1.041)" font-size="83" text-anchor="start"><tspan dy="8.26">−</tspan><tspan dy="-8.26" dx="-2.5">0.999</tspan></text>
<text transform="translate(1977.8,1929.6) scale(1,1.041)" font-size="70" text-anchor="start"><tspan dy="6.97">−</tspan><tspan dy="-6.97" dx="-0.5">1.001</tspan></text>
<text transform="translate(874.6,2039.3) scale(1,1.041)" font-size="90" text-anchor="middle">1.0</text>
<text transform="translate(1189.75,2039.3) scale(1,1.041)" font-size="90" text-anchor="middle">0.5</text>
<text transform="translate(1505.2,2039.3) scale(1,1.041)" font-size="90" text-anchor="middle">0.0</text>
<text transform="translate(1820.65,2039.3) scale(1,1.041)" font-size="90" text-anchor="middle">0.5</text>
<text transform="translate(2136.4,2039.3) scale(1,1.041)" font-size="90" text-anchor="middle">1.0</text>
<text transform="translate(1506,2199) scale(1,1.041)" font-size="90" text-anchor="middle">Scale Factor</text>
<text transform="translate(241.7,1292.5) scale(1,1.041)" font-size="84" text-anchor="start">−</text>
<text transform="translate(289.6,1286.2) scale(1,1.041)" font-size="90" text-anchor="start">8.50</text>
<text transform="translate(476.8,1289.7) scale(1,1.041)" font-size="75" text-anchor="start" stroke="#000" stroke-width="2.6" stroke-linejoin="miter">×</text>
<text transform="translate(531.7,1286.2) scale(1,1.041)" font-size="90" text-anchor="start">10</text>
<text transform="translate(632,1253.7) scale(1,1.041)" font-size="58" text-anchor="start">−</text>
<text transform="translate(666.5,1248.8) scale(1,1.041)" font-size="63" text-anchor="start">121</text>
<text transform="translate(241.7,1423.65) scale(1,1.041)" font-size="84" text-anchor="start">−</text>
<text transform="translate(289.6,1417.35) scale(1,1.041)" font-size="90" text-anchor="start">8.52</text>
<text transform="translate(476.8,1420.85) scale(1,1.041)" font-size="75" text-anchor="start" stroke="#000" stroke-width="2.6" stroke-linejoin="miter">×</text>
<text transform="translate(531.7,1417.35) scale(1,1.041)" font-size="90" text-anchor="start">10</text>
<text transform="translate(632,1384.85) scale(1,1.041)" font-size="58" text-anchor="start">−</text>
<text transform="translate(666.5,1379.95) scale(1,1.041)" font-size="63" text-anchor="start">121</text>
<text transform="translate(241.7,1554.8) scale(1,1.041)" font-size="84" text-anchor="start">−</text>
<text transform="translate(289.6,1548.5) scale(1,1.041)" font-size="90" text-anchor="start">8.54</text>
<text transform="translate(476.8,1552) scale(1,1.041)" font-size="75" text-anchor="start" stroke="#000" stroke-width="2.6" stroke-linejoin="miter">×</text>
<text transform="translate(531.7,1548.5) scale(1,1.041)" font-size="90" text-anchor="start">10</text>
<text transform="translate(632,1516) scale(1,1.041)" font-size="58" text-anchor="start">−</text>
<text transform="translate(666.5,1511.1) scale(1,1.041)" font-size="63" text-anchor="start">121</text>
<text transform="translate(241.7,1685.95) scale(1,1.041)" font-size="84" text-anchor="start">−</text>
<text transform="translate(289.6,1679.65) scale(1,1.041)" font-size="90" text-anchor="start">8.56</text>
<text transform="translate(476.8,1683.15) scale(1,1.041)" font-size="75" text-anchor="start" stroke="#000" stroke-width="2.6" stroke-linejoin="miter">×</text>
<text transform="translate(531.7,1679.65) scale(1,1.041)" font-size="90" text-anchor="start">10</text>
<text transform="translate(632,1647.15) scale(1,1.041)" font-size="58" text-anchor="start">−</text>
<text transform="translate(666.5,1642.25) scale(1,1.041)" font-size="63" text-anchor="start">121</text>
<text transform="translate(241.7,1817.1) scale(1,1.041)" font-size="84" text-anchor="start">−</text>
<text transform="translate(289.6,1810.8) scale(1,1.041)" font-size="90" text-anchor="start">8.58</text>
<text transform="translate(476.8,1814.3) scale(1,1.041)" font-size="75" text-anchor="start" stroke="#000" stroke-width="2.6" stroke-linejoin="miter">×</text>
<text transform="translate(531.7,1810.8) scale(1,1.041)" font-size="90" text-anchor="start">10</text>
<text transform="translate(632,1778.3) scale(1,1.041)" font-size="58" text-anchor="start">−</text>
<text transform="translate(666.5,1773.4) scale(1,1.041)" font-size="63" text-anchor="start">121</text>
<text transform="translate(241.7,1948.25) scale(1,1.041)" font-size="84" text-anchor="start">−</text>
<text transform="translate(289.6,1941.95) scale(1,1.041)" font-size="90" text-anchor="start">8.60</text>
<text transform="translate(476.8,1945.45) scale(1,1.041)" font-size="75" text-anchor="start" stroke="#000" stroke-width="2.6" stroke-linejoin="miter">×</text>
<text transform="translate(531.7,1941.95) scale(1,1.041)" font-size="90" text-anchor="start">10</text>
<text transform="translate(632,1909.45) scale(1,1.041)" font-size="58" text-anchor="start">−</text>
<text transform="translate(666.5,1904.55) scale(1,1.041)" font-size="63" text-anchor="start">121</text>
<text transform="translate(241.7,2079.4) scale(1,1.041)" font-size="84" text-anchor="start">−</text>
<text transform="translate(289.6,2073.1) scale(1,1.041)" font-size="90" text-anchor="start">8.62</text>
<text transform="translate(476.8,2076.6) scale(1,1.041)" font-size="75" text-anchor="start" stroke="#000" stroke-width="2.6" stroke-linejoin="miter">×</text>
<text transform="translate(531.7,2073.1) scale(1,1.041)" font-size="90" text-anchor="start">10</text>
<text transform="translate(632,2040.6) scale(1,1.041)" font-size="58" text-anchor="start">−</text>
<text transform="translate(666.5,2035.7) scale(1,1.041)" font-size="63" text-anchor="start">121</text>
<text transform="translate(145.4,1819.1) rotate(-90) scale(1,1.098)" font-size="92.5" class="i">P</text>
<text transform="translate(163,1757.1) rotate(-90) scale(1,1.0)" font-size="68">de</text>
<text transform="translate(145.6,1648) rotate(-90) scale(1,1.0)" font-size="89">[</text>
<text transform="translate(146,1616.3) rotate(-90) scale(1,1.098)" font-size="92.5" class="i">M</text>
<text transform="translate(99.9,1534.6) rotate(-90) scale(1,1.041)" font-size="67">4</text>
<text transform="translate(172.5,1537.5) rotate(-90) scale(1,1.041)" font-size="67" class="i">p</text>
<text transform="translate(145.6,1493) rotate(-90) scale(1,1.0)" font-size="89">]</text>
</svg></body></html>
